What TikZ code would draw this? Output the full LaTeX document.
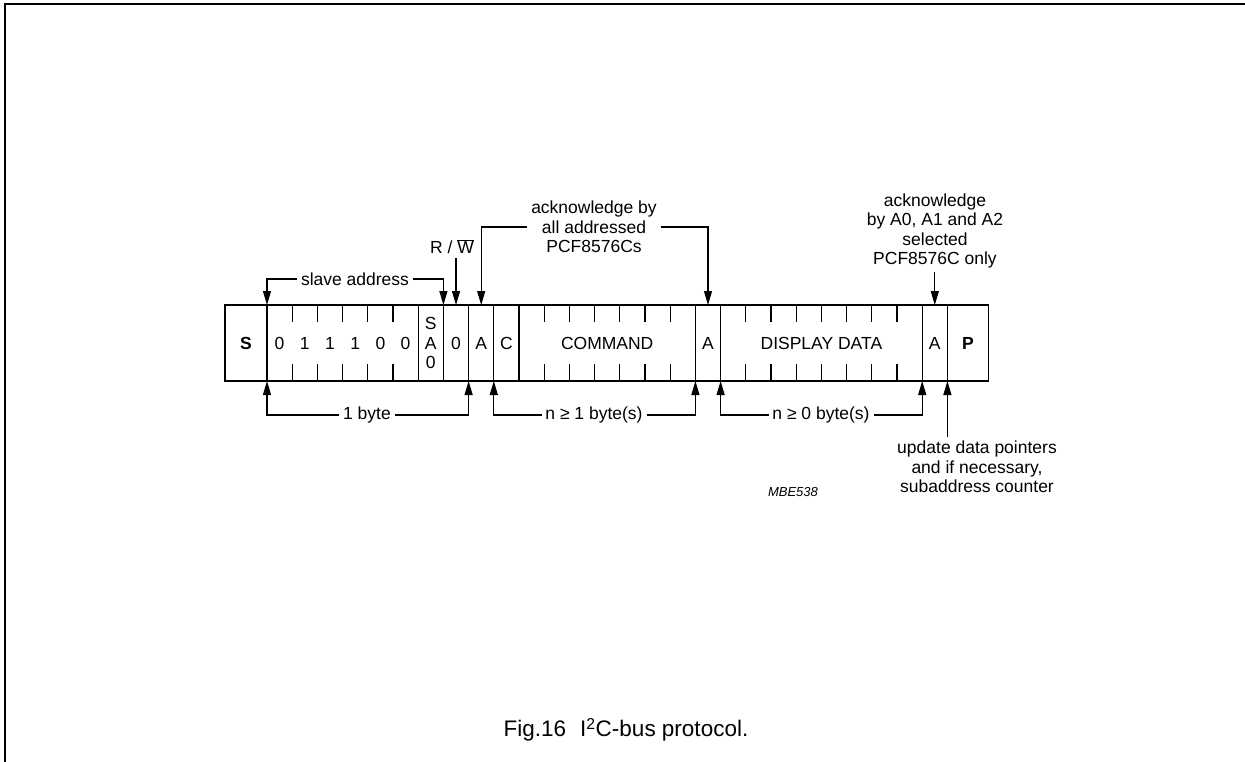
\documentclass[tikz,border=0pt]{standalone}
\usepackage{fontspec}
\setmainfont{Liberation Sans}
\usetikzlibrary{arrows.meta,positioning}

\newcommand{\lblfont}{\fontsize{17.5}{19.5}\selectfont}

\begin{document}
\begin{tikzpicture}[x=1pt, y=-1pt, line width=1.2pt,
  cell/.style={minimum width=25.2pt, minimum height=76pt, inner sep=0pt, outer sep=0pt, align=center, font=\lblfont},
  bold/.style={cell, font=\lblfont\bfseries},
  lbl/.style={font=\lblfont, align=center},
  arr/.style={-{Triangle[length=14pt, width=8pt]}}
]
  \useasboundingbox (0,0) rectangle (1245,762);
  \draw (5,762) -- (5,4) -- (1245,4);

  \node[bold, minimum width=42pt, anchor=west] (s) at (225,343) {S};
  \node[cell, right=0pt of s] (b1) {0};
  \node[cell, right=0pt of b1] (b2) {1};
  \node[cell, right=0pt of b2] (b3) {1};
  \node[cell, right=0pt of b3] (b4) {1};
  \node[cell, right=0pt of b4] (b5) {0};
  \node[cell, right=0pt of b5] (b6) {0};
  \node[cell, right=0pt of b6] (sa) {S\\A\\0};
  \node[cell, right=0pt of sa] (rw) {0};
  \node[cell, right=0pt of rw] (ack1) {A};
  \node[cell, right=0pt of ack1] (c) {C};
  \node[cell, right=0pt of c, minimum width=176.4pt] (cmd) {COMMAND};
  \node[cell, right=0pt of cmd] (ack2) {A};
  \node[cell, right=0pt of ack2, minimum width=201.6pt] (data) {DISPLAY DATA};
  \node[cell, right=0pt of data] (ack3) {A};
  \node[bold, right=0pt of ack3, minimum width=41pt] (p) {P};

  \draw (s.north west) rectangle (p.south east);
  \foreach \n in {s,b6,sa,rw,ack1,c,cmd,ack2,data,ack3}
    \draw (\n.north east) -- (\n.south east);
  \foreach \n in {b1,b2,b3,b4,b5} {
    \draw (\n.north east) -- ++(0,17);
    \draw (\n.south east) -- ++(0,-17);
  }
  \foreach \i in {1,...,6} {
    \draw ([xshift=\i*25.2pt]cmd.north west) -- ++(0,17);
    \draw ([xshift=\i*25.2pt]cmd.south west) -- ++(0,-17);
  }
  \foreach \i in {1,...,7} {
    \draw ([xshift=\i*25.2pt]data.north west) -- ++(0,17);
    \draw ([xshift=\i*25.2pt]data.south west) -- ++(0,-17);
  }

  \node[lbl] (slave) at (355,279) {slave address};
  \draw[arr] (slave.west) -| (b1.north west);
  \draw[arr] (slave.east) -| (rw.north west);

  \node[lbl] (rwlbl) at (452,247) {R / $\overline{\mbox{W}}$};
  \draw[arr] (rwlbl.south -| rw.north) -- (rw.north);

  \node[lbl] (ackall) at (594,227) {acknowledge by\\all addressed\\PCF8576Cs};
  \draw[arr] (ackall.west) -| (ack1.north);
  \draw[arr] (ackall.east) -| (ack2.north);

  \node[lbl] (acksel) at (935,231) {acknowledge\\by A0, A1 and A2\\selected\\PCF8576C only};
  \draw[arr] (acksel.south -| ack3.north) -- (ack3.north);

  \node[lbl] (onebyte) at (367,415) {1 byte};
  \draw[arr] (onebyte.west) -| (b1.south west);
  \draw[arr] (onebyte.east) -| (rw.south east);

  \node[lbl] (nbyte1) at (594,415) {n ≥ 1 byte(s)};
  \draw[arr] (nbyte1.west) -| (c.south west);
  \draw[arr] (nbyte1.east) -| (cmd.south east);

  \node[lbl] (nbyte0) at (821,415) {n ≥ 0 byte(s)};
  \draw[arr] (nbyte0.west) -| (data.south west);
  \draw[arr] (nbyte0.east) -| (data.south east);

  \node[lbl] (upd) at (977,467) {update data pointers\\and if necessary,\\subaddress counter};
  \draw[arr] (upd.north -| p.south west) -- (p.south west);

  \node[font=\fontsize{13}{15}\selectfont\itshape] (mbe) at (793,492) {MBE538};

  \node[font=\fontsize{22.5}{26}\selectfont] (cap) at (626,730) {Fig.16\hspace{14pt}I\textsuperscript{2}C-bus protocol.};
\end{tikzpicture}
\end{document}
